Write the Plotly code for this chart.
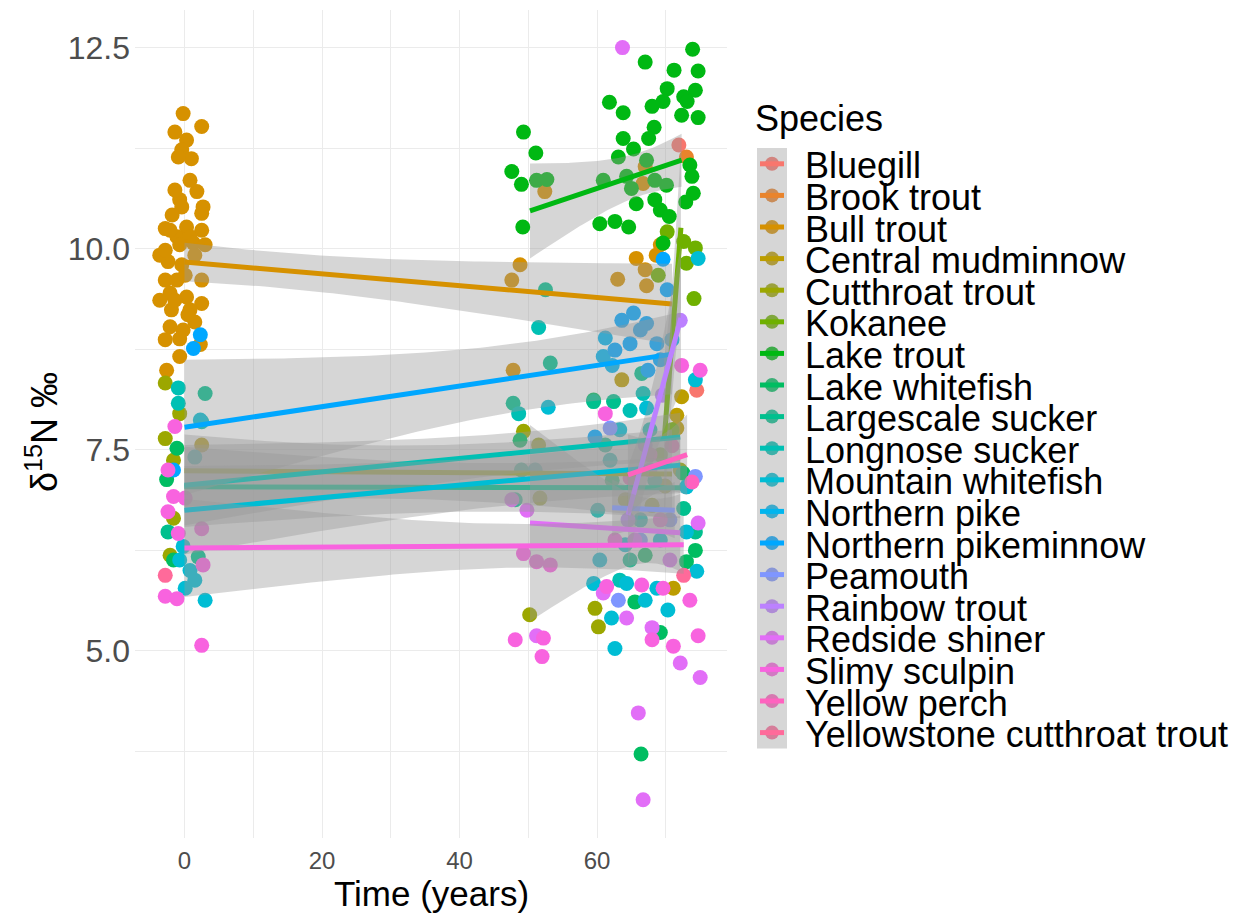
import math
import numpy as np
import plotly.graph_objects as go

W, H = 1251, 916

species = ["Bluegill", "Brook trout", "Bull trout", "Central mudminnow", "Cutthroat trout",
           "Kokanee", "Lake trout", "Lake whitefish", "Largescale sucker", "Longnose sucker",
           "Mountain whitefish", "Northern pike", "Northern pikeminnow", "Peamouth",
           "Rainbow trout", "Redside shiner", "Slimy sculpin", "Yellow perch",
           "Yellowstone cutthroat trout"]

# jittered observations: (time in years, d15N)
bluegill = [(71.9, 11.29), (74.5, 8.24)]
brook_trout = [(73.0, 11.14)]
bull_trout = [
    (-0.2, 11.68), (-1.4, 11.45), (2.5, 11.52), (0.3, 11.35), (-0.4, 11.23), (1.0, 11.12), (-0.9, 11.14),
    (1.8, 10.71), (-0.7, 10.61), (-0.4, 10.52), (2.7, 10.52), (2.5, 10.44), (-2.8, 10.25), (0.3, 10.27),
    (2.5, 10.23), (-1.1, 10.15), (0.8, 10.15), (-0.7, 10.05), (1.3, 10.07), (-2.4, 9.84), (-0.4, 9.80),
    (-2.8, 9.61), (-1.1, 9.61), (2.5, 9.61), (-2.1, 9.45), (0.3, 9.40), (2.5, 9.32), (-1.9, 9.24), (0.8, 9.24),
    (-2.1, 9.03), (-0.2, 8.99), (-0.7, 8.88), (-0.7, 8.66), (-2.6, 8.49),
    (-3.6, 9.92), (1.5, 9.92), (-1.8, 10.42), (-3.6, 9.36), (1.5, 9.09), (-2.8, 8.87), (2.3, 8.81),
    (-1.4, 10.73), (0.8, 10.85), (3.0, 10.05), (-2.1, 10.23), (0.1, 9.67), (-1.4, 9.36), (0.5, 9.18),
    (-2.8, 9.98),
    (48.8, 9.80), (47.6, 9.61), (52.4, 10.71), (47.8, 8.49),
    (67.0, 11.02), (66.7, 10.81), (65.7, 9.88), (68.6, 9.92), (67.0, 9.74), (63.0, 9.62), (67.2, 9.54),
    (69.2, 10.05),
]
central_mudminnow = [(2.5, 7.56), (72.3, 8.16), (71.1, 5.78), (63.6, 8.37), (71.6, 7.93), (71.6, 7.77)]
cutthroat_trout = [
    (-2.8, 8.33), (-0.7, 7.95), (-2.8, 7.64), (-1.6, 7.37), (-1.6, 6.65), (-2.1, 6.19),
    (49.3, 7.73), (50.2, 5.45), (51.5, 7.56), (51.7, 6.90),
    (60.2, 5.30), (59.7, 5.53), (72.1, 7.25), (68.0, 6.81), (64.1, 6.88), (69.9, 7.05),
]
kokanee = [(70.2, 10.21), (72.6, 10.09), (74.3, 10.01), (73.0, 9.82), (74.1, 9.38), (68.9, 9.67),
           (70.9, 7.75), (69.2, 7.44)]
lake_trout = [
    (49.3, 11.45), (51.1, 11.19), (47.6, 10.96), (49.0, 10.80), (51.2, 10.85), (52.7, 10.86), (49.2, 10.27),
    (60.9, 10.85), (60.4, 10.31), (67.0, 12.32), (73.9, 12.48), (71.2, 12.22), (74.7, 12.21),
    (70.2, 11.99), (74.3, 11.97), (61.8, 11.82), (63.8, 11.69), (68.0, 11.77), (69.6, 11.83), (72.6, 11.89),
    (73.1, 11.83), (72.3, 11.66), (74.7, 11.63), (68.3, 11.51), (67.5, 11.37), (63.8, 11.37), (65.3, 11.24),
    (63.1, 11.14), (73.5, 11.04), (73.8, 10.90), (64.3, 10.90), (67.2, 11.10), (65.0, 10.75),
    (70.1, 10.79), (68.4, 10.85), (74.0, 10.69), (72.9, 10.58), (65.7, 10.56), (68.4, 10.61), (69.2, 10.48),
    (70.5, 10.40), (62.6, 10.34), (64.6, 10.27), (69.6, 10.07),
]
lake_whitefish = [(-1.1, 7.52), (-2.6, 7.13), (-1.6, 6.13), (48.8, 7.62), (59.5, 8.12), (72.5, 7.21),
                  (74.3, 6.25), (73.0, 6.11), (65.5, 5.61), (66.4, 3.72), (69.2, 5.23), (62.2, 7.12),
                  (67.0, 6.19)]
largescale_sucker = [(-2.4, 6.48), (2.0, 6.17), (3.0, 8.20), (47.8, 8.08), (49.0, 7.25), (48.1, 6.88),
                     (53.2, 8.58), (52.5, 9.49), (59.5, 8.10), (62.4, 8.10), (66.5, 8.45), (72.6, 6.77),
                     (74.3, 6.48), (61.2, 7.56), (68.4, 7.12), (64.8, 6.13)]
longnose_sucker = [(-0.9, 8.27), (-0.9, 8.08), (2.5, 7.85), (1.5, 7.41), (48.6, 7.95), (51.5, 9.02),
                   (51.0, 7.25), (64.8, 7.99), (66.7, 8.20), (61.9, 7.37), (67.7, 7.75), (60.1, 6.75),
                   (66.3, 6.63), (63.3, 5.88)]
mountain_whitefish = [(-0.2, 6.30), (-0.7, 6.13), (1.5, 5.88), (0.1, 5.78), (0.8, 6.00), (2.3, 7.87),
                      (3.0, 5.63), (52.9, 8.03), (67.2, 8.02), (73.0, 7.04), (73.0, 6.48), (74.5, 5.99),
                      (64.3, 5.84), (59.5, 5.84), (62.1, 5.41), (68.7, 5.78), (62.6, 5.03), (74.3, 8.37),
                      (74.7, 9.88), (63.3, 7.75), (69.2, 6.38), (60.4, 6.13), (64.1, 6.32), (70.3, 5.51),
                      (67.0, 5.63)]
northern_pike = [(61.2, 8.89), (60.9, 8.66), (70.9, 8.87), (62.2, 8.55)]
northern_pikeminnow = [(2.3, 8.93), (1.3, 8.76), (-1.6, 7.25), (69.6, 9.87), (70.2, 9.49), (63.6, 9.11),
                       (65.3, 9.20), (67.2, 9.07), (64.8, 8.82), (68.7, 8.82), (59.7, 7.66), (62.6, 8.74),
                       (66.3, 8.99), (69.2, 8.62), (67.4, 8.49)]
peamouth = [(74.3, 7.17), (63.1, 5.63), (61.9, 7.77), (66.3, 6.38), (70.6, 6.63)]
rainbow_trout = [(72.1, 9.11), (67.7, 7.25), (64.5, 6.63), (69.5, 8.18), (67.0, 7.56)]
redside_shiner = [(63.7, 12.50), (66.0, 4.23), (66.7, 3.15), (75.0, 4.67), (72.1, 4.85), (68.0, 5.29),
                  (51.2, 5.19), (47.6, 6.88), (49.8, 6.75), (74.7, 6.59), (60.9, 5.72), (64.3, 5.41),
                  (65.5, 6.38), (70.6, 6.13)]
slimy_sculpin = [
    (-1.4, 7.79), (-2.4, 7.25), (-1.6, 6.92), (-2.4, 6.73), (-0.9, 6.46), (-2.8, 5.68), (-1.1, 5.65),
    (2.5, 5.07), (0.1, 6.90), (2.5, 6.52), (2.7, 6.07),
    (48.1, 5.14), (52.2, 5.16), (52.0, 4.93), (49.3, 6.21), (51.2, 6.11), (53.2, 6.07),
    (61.2, 7.95), (61.4, 5.80), (72.3, 8.55), (75.0, 8.49), (69.6, 5.78), (66.5, 5.82), (74.7, 5.19),
    (71.1, 5.06), (68.0, 5.14), (62.6, 6.38), (69.2, 6.63), (73.5, 5.63),
]
yellow_perch = [(73.8, 7.10), (67.7, 7.44), (70.9, 7.55), (64.8, 7.15)]
yellowstone_cutthroat_trout = [(-2.8, 5.94), (72.6, 5.94)]

observations = [bluegill, brook_trout, bull_trout, central_mudminnow, cutthroat_trout, kokanee,
                lake_trout, lake_whitefish, largescale_sucker, longnose_sucker, mountain_whitefish,
                northern_pike, northern_pikeminnow, peamouth, rainbow_trout, redside_shiner,
                slimy_sculpin, yellow_perch, yellowstone_cutthroat_trout]

# linear fits per species: time span, fitted d15N at both ends, and 95% band half-widths
fit_species = ["Bull trout", "Cutthroat trout", "Kokanee", "Lake trout", "Largescale sucker",
               "Longnose sucker", "Mountain whitefish", "Northern pikeminnow", "Peamouth",
               "Rainbow trout", "Redside shiner", "Slimy sculpin", "Yellow perch"]
fit_t_start = [0.0, 0.0, 69.75, 50.25, 0.0, 0.0, 0.0, 0.0, 62.2, 64.5, 50.25, 0.0, 64.5]
fit_t_end = [70.9, 70.9, 72.2, 72.3, 72.1, 72.1, 72.1, 70.9, 71.3, 72.2, 72.1, 72.6, 73.1]
fit_y_start = [9.835, 7.24, 7.62, 10.47, 7.04, 7.06, 6.75, 7.78, 6.78, 6.69, 6.59, 6.28, 7.19]
fit_y_end = [9.313, 7.20, 10.26, 11.10, 7.03, 7.66, 7.31, 8.69, 6.75, 9.14, 6.47, 6.32, 7.44]
fit_se_start = [0.24, 0.45, 1.00, 0.59, 0.50, 0.50, 0.55, 0.84, 0.35, 0.60, 1.22, 0.61, 0.50]
fit_se_end = [0.50, 0.55, 1.00, 0.33, 0.38, 0.30, 0.35, 0.50, 0.35, 0.90, 0.48, 0.36, 0.50]
fit_se_min = [0.22, 0.33, 0.70, 0.27, 0.30, 0.25, 0.30, 0.42, 0.25, 0.45, 0.40, 0.27, 0.35]


def hue_color(h, c=100.0, l=65.0):
    """HCL (polar Luv) to sRGB, as used by ggplot's default hue palette."""
    hr = math.radians(h)
    U, V = c * math.cos(hr), c * math.sin(hr)
    Xn, Yn, Zn = 95.047, 100.0, 108.883
    den = Xn + 15 * Yn + 3 * Zn
    un, vn = 4 * Xn / den, 9 * Yn / den
    Y = Yn * ((l + 16) / 116) ** 3
    u = U / (13 * l) + un
    v = V / (13 * l) + vn
    X = 9 * Y * u / (4 * v)
    Z = Y * (12 - 3 * u - 20 * v) / (4 * v)
    X, Y, Z = X / 100, Y / 100, Z / 100
    r = 3.240479 * X - 1.537150 * Y - 0.498535 * Z
    g = -0.969256 * X + 1.875992 * Y + 0.041556 * Z
    b = 0.055648 * X - 0.204043 * Y + 1.057311 * Z

    def gam(x):
        x = 1.055 * x ** (1 / 2.4) - 0.055 if x > 0.0031308 else 12.92 * x
        return min(max(x, 0.0), 1.0)

    return tuple(int(round(255 * gam(ch))) for ch in (r, g, b))


n_sp = len(species)
rgb = [hue_color(15 + i * 360 / n_sp) for i in range(n_sp)]
colors = ["rgb(%d,%d,%d)" % c for c in rgb]
# key points sit under the translucent grey band fill of the smooth key
muted = ["rgb(%d,%d,%d)" % tuple(round(0.6 * ch + 0.4 * 153) for ch in c) for c in rgb]

BAND = "rgba(153,153,153,0.4)"
FONT = "Liberation Sans, Arial, sans-serif"

# panel geometry in pixels
PX_L, PX_R, PY_T, PY_B = 135, 727, 9.8, 837.6

fig = go.Figure()

# jittered points
for name, obs, col in zip(species, observations, colors):
    fig.add_trace(go.Scatter(
        x=[p[0] for p in obs], y=[p[1] for p in obs], mode="markers", name=name,
        marker=dict(size=15, color=col, line=dict(width=0)), hoverinfo="skip"))

# fitted lines with confidence bands, in species order
for name, col in zip(species, colors):
    if name not in fit_species:
        continue
    k = fit_species.index(name)
    t0, t1 = fit_t_start[k], fit_t_end[k]
    y0, y1 = fit_y_start[k], fit_y_end[k]
    m = fit_se_min[k]
    a = math.sqrt(max(fit_se_start[k] ** 2 - m ** 2, 0.0))
    b = math.sqrt(max(fit_se_end[k] ** 2 - m ** 2, 0.0))
    slope_se = (a + b) / (t1 - t0)
    t_mid = t0 + (a / slope_se if slope_se > 0 else 0.0)
    t = np.linspace(t0, t1, 80)
    y = y0 + (y1 - y0) * (t - t0) / (t1 - t0)
    hw = np.sqrt(m ** 2 + (slope_se * (t - t_mid)) ** 2)
    fig.add_trace(go.Scatter(
        x=np.concatenate([t, t[::-1]]), y=np.concatenate([y + hw, (y - hw)[::-1]]),
        mode="lines", fill="toself", fillcolor=BAND, line=dict(width=0),
        hoverinfo="skip"))
    fig.add_trace(go.Scatter(x=t, y=y, mode="lines", line=dict(color=col, width=5),
                             hoverinfo="skip"))

# legend drawn on a pixel-unit overlay axis
KEY_X0, KEY_X1, KEY_TOP, KEY_STEP = 757, 787, 148, 31.6
key_y = [KEY_TOP + KEY_STEP * (i + 0.5) for i in range(n_sp)]
key_cx = (KEY_X0 + KEY_X1) / 2

fig.add_shape(type="rect", xref="x2", yref="y2", x0=KEY_X0, x1=KEY_X1,
              y0=KEY_TOP, y1=KEY_TOP + KEY_STEP * n_sp, fillcolor="#D6D6D6",
              line=dict(width=0), layer="below")
fig.add_trace(go.Scatter(x=[key_cx] * n_sp, y=key_y, xaxis="x2", yaxis="y2", mode="markers",
                         marker=dict(size=14, color=muted, line=dict(width=0)),
                         hoverinfo="skip"))
for yk, col in zip(key_y, colors):
    fig.add_trace(go.Scatter(x=[KEY_X0 + 3, KEY_X1 - 3], y=[yk, yk], xaxis="x2", yaxis="y2",
                             mode="lines", line=dict(color=col, width=5), hoverinfo="skip"))
for yk, name in zip(key_y, species):
    fig.add_annotation(x=803, y=yk + 2, xref="x2", yref="y2", text=name, showarrow=False,
                       xanchor="left", yanchor="middle",
                       font=dict(family=FONT, size=36, color="black"))
fig.add_annotation(x=753, y=118, xref="x2", yref="y2", text="Species", showarrow=False,
                   xanchor="left", yanchor="middle", font=dict(family=FONT, size=36, color="black"))

# axis titles
fig.add_annotation(x=(PX_L + PX_R) / 2, y=893, xref="x2", yref="y2", text="Time (years)",
                   showarrow=False, xanchor="center", yanchor="middle",
                   font=dict(family=FONT, size=35, color="black"))
fig.add_annotation(x=42, y=432, xref="x2", yref="y2", text="δ<sup>15</sup>N ‰",
                   showarrow=False, textangle=-90, xanchor="center", yanchor="middle",
                   font=dict(family=FONT, size=36, color="black"))

grid = "#EBEBEB"
fig.update_layout(
    width=W, height=H, margin=dict(l=0, r=0, t=0, b=0),
    paper_bgcolor="white", plot_bgcolor="rgba(0,0,0,0)", showlegend=False,
    font=dict(family=FONT),
    xaxis=dict(domain=[PX_L / W, PX_R / W], range=[-7.2, 78.9], tick0=0, dtick=20,
               showgrid=True, gridcolor=grid, gridwidth=1.1, zeroline=False, showline=False,
               ticks="", tickfont=dict(family=FONT, size=24, color="#4D4D4D"),
               ticklabelstandoff=6,
               minor=dict(tick0=0, dtick=10, showgrid=True, gridcolor=grid, gridwidth=0.6),
               anchor="y", fixedrange=True),
    yaxis=dict(domain=[1 - PY_B / H, 1 - PY_T / H], range=[2.68, 12.97], tick0=0, dtick=2.5,
               tickformat=".1f", showgrid=True, gridcolor=grid, gridwidth=1.1, zeroline=False,
               showline=False, ticks="", tickfont=dict(family=FONT, size=32, color="#4D4D4D"),
               ticklabelstandoff=4,
               minor=dict(tick0=0, dtick=1.25, showgrid=True, gridcolor=grid, gridwidth=0.6),
               anchor="x", fixedrange=True),
    xaxis2=dict(domain=[0, 1], range=[0, W], visible=False, anchor="y2", fixedrange=True),
    yaxis2=dict(domain=[0, 1], range=[H, 0], visible=False, anchor="x2", fixedrange=True),
)

fig.write_html("out.html")
